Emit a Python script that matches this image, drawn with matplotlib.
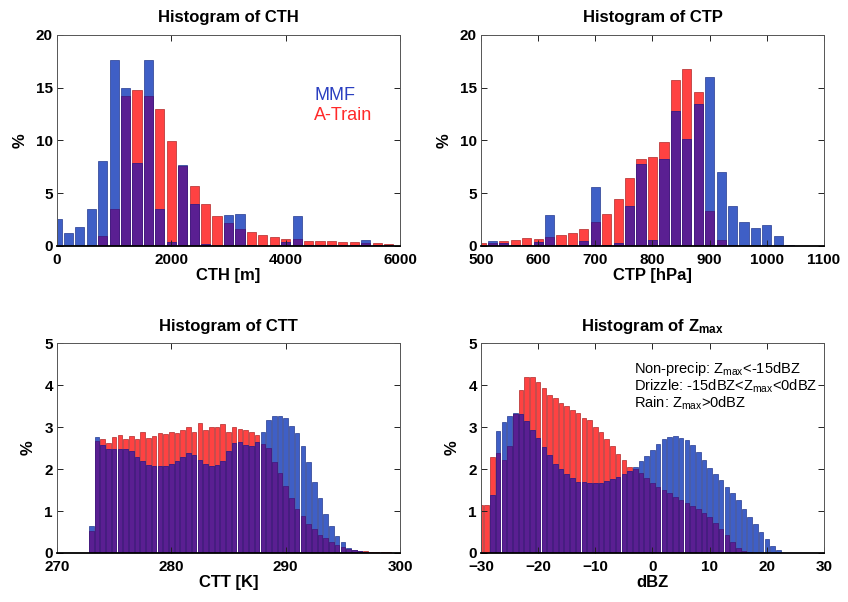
import numpy as np
import matplotlib
matplotlib.use('Agg')
import matplotlib.pyplot as plt

plt.rcParams['font.family'] = ['Liberation Sans', 'DejaVu Sans']
plt.rcParams['font.weight'] = 'bold'
plt.rcParams['mathtext.fontset'] = 'custom'
plt.rcParams['mathtext.rm'] = 'Liberation Sans:weight=normal'
plt.rcParams['mathtext.bf'] = 'Liberation Sans:weight=bold'

BLUE = '#3f5fc6'
RED = '#ff4242'
PURPLE = '#5a1f92'

# Cloud top height, bins of 200 m
cth_bins = np.arange(0, 6001, 200)
mmf_cth = [2.6, 1.26, 1.83, 3.5, 8.1, 17.6, 15.0, 7.9, 17.6, 3.5, 0.35, 7.7, 4.0, 0.2, 0.0,
           2.95, 3.05, 0.1, 0.0, 0.0, 0.4, 2.85, 0.1, 0.05, 0.05, 0.05, 0.05, 0.55, 0.1, 0.05, 0.0]
atrain_cth = [0, 0, 0, 0.05, 0.9, 3.5, 14.2, 14.8, 14.25, 12.95, 9.95, 7.6, 5.65, 4.0, 2.85,
              2.2, 1.6, 1.33, 1.04, 0.82, 0.7, 0.63, 0.5, 0.5, 0.45, 0.4, 0.35, 0.3, 0.25, 0.15, 0.0]

# Cloud top pressure, bins of 20 hPa
ctp_bins = np.arange(500, 1101, 20)
mmf_ctp = [0, 0.45, 0.25, 0.05, 0.05, 0.35, 2.95, 0.05, 0.05, 0.45, 5.6, 0.05, 0.25, 3.8, 7.75,
           0.6, 8.2, 12.8, 10.1, 13.5, 16.0, 7.05, 3.8, 2.3, 1.75, 2.0, 0.95, 0.1, 0, 0, 0]
atrain_ctp = [0.3, 0.3, 0.45, 0.6, 0.75, 0.65, 0.85, 1.0, 1.2, 1.65, 2.25, 3.05, 4.5, 6.4, 8.25,
              8.4, 9.9, 15.7, 16.8, 14.6, 3.3, 0.55, 0.1, 0, 0, 0, 0, 0, 0, 0, 0]

# Cloud top temperature, bins of 0.5 K
ctt_bins = np.arange(273.0, 300.01, 0.5)
mmf_ctt = [0.645, 2.76, 2.58, 2.47, 2.48, 2.48, 2.48, 2.42, 2.29, 2.18,
           2.10, 2.08, 2.07, 2.08, 2.13, 2.20, 2.29, 2.39, 2.33, 2.21,
           2.12, 2.07, 2.09, 2.20, 2.44, 2.61, 2.65, 2.56, 2.55, 2.64,
           2.89, 3.17, 3.27, 3.27, 3.21, 3.03, 2.85, 2.55, 2.17, 1.70,
           1.30, 0.92, 0.64, 0.41, 0.25, 0.13, 0.07, 0.04, 0.02, 0.01,
           0.0, 0.0, 0.0, 0.0, 0.0]
atrain_ctt = [0.53, 2.67, 2.71, 2.63, 2.76, 2.82, 2.71, 2.79, 2.71, 2.87,
              2.75, 2.78, 2.85, 2.83, 2.87, 2.85, 2.92, 2.99, 2.88, 3.10,
              2.94, 3.01, 3.01, 3.07, 2.89, 2.99, 2.95, 2.93, 2.87, 2.81,
              2.60, 2.49, 2.17, 1.91, 1.60, 1.32, 1.05, 0.88, 0.70, 0.57,
              0.43, 0.35, 0.27, 0.20, 0.14, 0.10, 0.07, 0.05, 0.04, 0.03,
              0.02, 0.02, 0.02, 0.01, 0.01]

# Maximum reflectivity, bins of 1 dBZ
dbz_bins = np.arange(-30, 31, 1)
mmf_dbz = [0, 0, 1.38, 2.90, 3.11, 3.26, 3.34, 3.30, 3.14, 2.93,
           2.73, 2.52, 2.33, 2.13, 1.99, 1.88, 1.78, 1.70, 1.68, 1.66,
           1.66, 1.66, 1.71, 1.76, 1.82, 1.88, 1.96, 2.04, 2.20, 2.31,
           2.45, 2.60, 2.71, 2.77, 2.79, 2.75, 2.68, 2.56, 2.41, 2.22,
           2.02, 1.88, 1.74, 1.58, 1.42, 1.26, 1.05, 0.86, 0.68, 0.50,
           0.34, 0.16, 0.06, 0.01, 0, 0, 0, 0, 0, 0, 0]
atrain_dbz = [1.14, 1.15, 2.28, 2.39, 2.21, 2.55, 3.30, 3.89, 4.18, 4.20,
              4.06, 3.94, 3.77, 3.70, 3.57, 3.49, 3.41, 3.33, 3.22, 3.17,
              3.01, 2.87, 2.71, 2.55, 2.36, 2.21, 2.04, 1.99, 1.90, 1.78,
              1.67, 1.58, 1.50, 1.42, 1.34, 1.27, 1.20, 1.12, 1.04, 0.95,
              0.86, 0.72, 0.58, 0.42, 0.25, 0.12, 0.05, 0.02, 0, 0,
              0, 0, 0, 0, 0, 0, 0, 0, 0, 0, 0]


def draw_hist(ax, bins, mmf, atrain, xlim, xticks, ylim, yticks, title, xlabel):
    width = 0.8 * (bins[1] - bins[0])
    mmf = np.asarray(mmf)
    atrain = np.asarray(atrain)
    ax.bar(bins, atrain, width=width, color=RED, edgecolor='#b02828', linewidth=0.5)
    ax.bar(bins, mmf, width=width, color=BLUE, edgecolor='#253a8f', linewidth=0.5)
    # overlapping part of both histograms
    ax.bar(bins, np.minimum(mmf, atrain), width=width, color=PURPLE,
           edgecolor='#44167a', linewidth=0.5)
    ax.set_xlim(xlim)
    ax.set_ylim(ylim)
    ax.set_xticks(xticks)
    ax.set_yticks(yticks)
    ax.tick_params(direction='in', top=True, right=True, length=4, width=0.7,
                   labelsize=11, pad=3, colors='#222222', labelcolor='black')
    ax.tick_params(axis='x', pad=5)
    for s in ['top', 'right', 'left']:
        ax.spines[s].set_color('#555555')
        ax.spines[s].set_linewidth(0.7)
    ax.spines['bottom'].set_linewidth(1.3)
    ax.set_title(title, fontsize=12, fontweight='bold', pad=9)
    ax.set_xlabel(xlabel, fontsize=12, fontweight='bold', labelpad=1)
    ax.set_ylabel('%', fontsize=12, fontweight='bold', labelpad=6)


fig = plt.figure(figsize=(8.48, 6.02), dpi=100)
ax1 = fig.add_axes([0.0672, 0.5914, 0.4045, 0.3505])
ax2 = fig.add_axes([0.5672, 0.5914, 0.4045, 0.3505])
ax3 = fig.add_axes([0.0672, 0.0814, 0.4045, 0.3488])
ax4 = fig.add_axes([0.5672, 0.0814, 0.4045, 0.3488])

draw_hist(ax1, cth_bins, mmf_cth, atrain_cth, (0, 6000), [0, 2000, 4000, 6000],
          (0, 20), [0, 5, 10, 15, 20], 'Histogram of CTH', 'CTH [m]')
draw_hist(ax2, ctp_bins, mmf_ctp, atrain_ctp, (500, 1100), np.arange(500, 1101, 100),
          (0, 20), [0, 5, 10, 15, 20], 'Histogram of CTP', 'CTP [hPa]')
draw_hist(ax3, ctt_bins, mmf_ctt, atrain_ctt, (270, 300), [270, 280, 290, 300],
          (0, 5), [0, 1, 2, 3, 4, 5], 'Histogram of CTT', 'CTT [K]')
draw_hist(ax4, dbz_bins, mmf_dbz, atrain_dbz, (-30, 30), np.arange(-30, 31, 10),
          (0, 5), [0, 1, 2, 3, 4, 5], r'Histogram of $\mathbf{Z_{max}}$', 'dBZ')

ax1.text(0.75, 0.715, 'MMF', color='#2a3fc0', fontsize=13, fontweight='normal',
         transform=ax1.transAxes, va='center')
ax1.text(0.75, 0.62, 'A-Train', color='#ff2a2a', fontsize=13, fontweight='normal',
         transform=ax1.transAxes, va='center')

legend_lines = [r'Non-precip: Z$_{\mathrm{max}}$<-15dBZ',
                r'Drizzle: -15dBZ<Z$_{\mathrm{max}}$<0dBZ',
                r'Rain: Z$_{\mathrm{max}}$>0dBZ']
for i, line in enumerate(legend_lines):
    ax4.text(0.445, 0.875 - i * 0.08, line, fontsize=10.5, fontweight='normal',
             transform=ax4.transAxes, va='center')

fig.savefig('out.png', dpi=100)
